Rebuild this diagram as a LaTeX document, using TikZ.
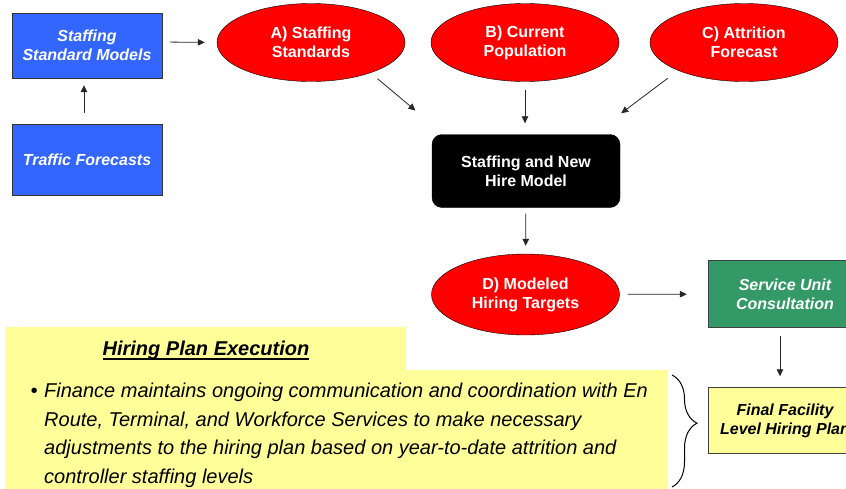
\documentclass[tikz,border=0pt]{standalone}
\usepackage{fontspec}
\setmainfont{Liberation Sans}
\usepackage{tikz}
\usetikzlibrary{shapes.geometric}
\usetikzlibrary{arrows.meta}
\usetikzlibrary{decorations.pathreplacing}
\definecolor{modelblue}{HTML}{3366FF}
\definecolor{targetred}{HTML}{FF0000}
\definecolor{unitgreen}{HTML}{339966}
\definecolor{planyellow}{HTML}{FFFF99}
\newcommand{\boxfont}{\fontsize{16}{19}\selectfont\bfseries}
\newcommand{\planuline}[1]{\setbox0\hbox{#1}\rlap{\rule[-5pt]{\wd0}{2.2pt}}\box0}
\tikzset{
	bluebox/.style={draw=black!80, fill=modelblue, text=white, font=\boxfont\itshape, minimum width=150pt, inner sep=0pt, align=center},
	redoval/.style={ellipse, draw=black, fill=targetred, text=white, font=\boxfont, minimum width=188pt, minimum height=78pt, inner sep=0pt, align=center},
	hirebox/.style={draw=black, fill=black, rounded corners=10pt, text=white, font=\boxfont, minimum width=188pt, minimum height=73pt, inner sep=0pt, align=center},
	unitbox/.style={draw=black!75, fill=unitgreen, text=white, font=\boxfont\itshape, minimum width=154pt, minimum height=67pt, inner sep=0pt, align=center},
	planbox/.style={draw=black!75, fill=planyellow, text=black, font=\boxfont\itshape, minimum width=154pt, minimum height=66pt, inner sep=0pt, align=center},
	flow/.style={-{Triangle[length=7pt,width=6.5pt]}, draw=black!85, line width=0.8pt}
}

\begin{document}
\begin{tikzpicture}[x=1pt, y=-1pt]

	\useasboundingbox (0,0) rectangle (846,488);

	\node[bluebox, minimum height=65pt] (ssm) at (87,45.5) {Staffing\\Standard Models};
	\node[bluebox, minimum height=71pt] (traffic) at (87,159.5) {Traffic Forecasts};

	\node[redoval] (stdA) at (311,42.5) {A) Staffing\\Standards};
	\node[redoval] (popB) at (525,42.5) {B) Current\\Population};
	\node[redoval] (attC) at (744,42.5) {C) Attrition\\Forecast};

	\node[hirebox] (hire) at (526,171) {Staffing and New\\Hire Model};
	\node[redoval, minimum height=81pt] (targD) at (525.5,294.5) {D) Modeled\\Hiring Targets};

	\node[unitbox] (unit) at (785,294) {Service Unit\\Consultation};
	\node[planbox] (final) at (785,420.5) {Final Facility\\Level Hiring Plan};

	\fill[planyellow] (5,327) rectangle (406,372);
	\fill[planyellow] (5,370) rectangle (668,495);

	\node[anchor=base, inner sep=0pt, font=\fontsize{20}{24}\selectfont\bfseries\itshape] (exectitle) at (206,355) {\planuline{Hiring Plan Execution}};
	\node[anchor=base west, inner sep=0pt, font=\fontsize{20}{28.6}\selectfont\itshape] (execnote) at (30.5,397.5) {\begin{tabular}[t]{@{}p{13.5pt}@{}l@{}}
		\textbullet & Finance maintains ongoing communication and coordination with En\\
		& Route, Terminal, and Workforce Services to make necessary\\
		& adjustments to the hiring plan based on year-to-date attrition and\\
		& controller staffing levels
	\end{tabular}};

	\coordinate (bracetop) at (672,375);
	\coordinate (bracebot) at (672,487);
	\draw[decorate, decoration={brace, amplitude=25pt, aspect=0.43}, line width=1pt] (bracetop) -- (bracebot);

	\draw[flow, shorten <=11pt, shorten >=7pt] ([xshift=-3pt]traffic.north) -- ([xshift=-3pt]ssm.south);
	\draw[flow, shorten <=8pt, shorten >=12pt] ([yshift=3.5pt]ssm.east) -- (stdA.west);
	\draw[flow, shorten <=9pt, shorten >=37pt] (stdA.-27) -- ([xshift=12pt]hire.north west);
	\draw[flow, shorten <=8pt, shorten >=11pt] (popB.south) -- (popB.south |- hire.north);
	\draw[flow, shorten <=13pt, shorten >=35pt] (attC.-157) -- ([xshift=-27pt]hire.north east);
	\draw[flow, shorten <=6pt, shorten >=8pt] (hire) -- (targD);
	\draw[flow, shorten <=8pt, shorten >=21pt] (targD) -- (unit);
	\draw[flow, shorten <=8pt, shorten >=11pt] ([xshift=-5pt]unit.south) -- ([xshift=-5pt]final.north);

\end{tikzpicture}
\end{document}
